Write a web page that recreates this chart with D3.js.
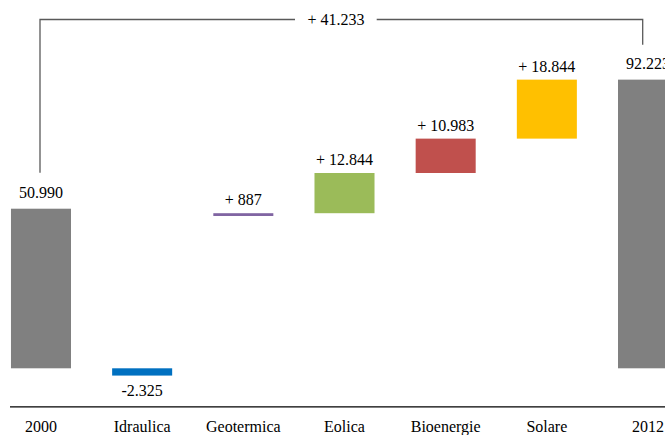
<!DOCTYPE html>
<html>
<head>
<meta charset="utf-8">
<script src="https://cdn.jsdelivr.net/npm/d3@7"></script>
<style>
  html, body { margin: 0; padding: 0; background: #fff; }
  svg { display: block; }
</style>
</head>
<body>
<svg id="chart" width="665" height="435"></svg>
<script>
// Capacity change 2000 → 2012 by source (MW)
const categories = ["2000", "Idraulica", "Geotermica", "Eolica", "Bioenergie", "Solare", "2012"];
const values     = [50990, -2325, 887, 12844, 10983, 18844, 92223];
const kinds      = ["total", "delta", "delta", "delta", "delta", "delta", "total"];
const colors     = ["#808080", "#0070C0", "#8064A2", "#9BBB59", "#C0504D", "#FFC000", "#808080"];
const totalChange = values[6] - values[0];

const FONT = "'Liberation Serif', 'DejaVu Serif', serif";

const it = d3.formatLocale({ decimal: ",", thousands: ".", grouping: [3], currency: ["", " €"] });
const fmt = it.format(",d");

const svg = d3.select("#chart");

const x = d3.scaleBand()
  .domain(categories)
  .range([-9.6, 698.6])
  .paddingInner(0.4067)
  .paddingOuter(0.2033);

const y = d3.scaleLinear()
  .domain([-12300, 100000])
  .range([406.8, 55.3]);

// Running totals; negative steps hang below the zero line
let running = 0;
const bars = categories.map((c, i) => {
  const v = values[i];
  let lo, hi;
  if (kinds[i] === "total") {
    lo = 0; hi = v; running = v;
  } else if (v < 0) {
    lo = v; hi = 0; running += v;
  } else {
    lo = running; hi = running + v; running += v;
  }
  return { cat: c, value: v, kind: kinds[i], color: colors[i], lo, hi };
});

svg.append("g")
  .selectAll("rect")
  .data(bars)
  .join("rect")
  .attr("x", d => x(d.cat))
  .attr("width", x.bandwidth())
  .attr("y", d => y(d.hi))
  .attr("height", d => y(d.lo) - y(d.hi))
  .attr("fill", d => d.color);

// Value labels
svg.append("g")
  .selectAll("text")
  .data(bars)
  .join("text")
  .attr("x", d => x(d.cat) + x.bandwidth() / 2)
  .attr("y", d => d.value < 0 ? y(d.lo) + 20 : y(d.hi) - (d.kind === "total" ? 11 : 8))
  .attr("text-anchor", "middle")
  .attr("font-family", FONT)
  .attr("font-size", 16)
  .attr("fill", "#000")
  .text(d => d.kind === "total" ? fmt(d.value) : (d.value < 0 ? "-" + fmt(-d.value) : "+ " + fmt(d.value)));

// Category axis
const axis = svg.append("g")
  .attr("transform", `translate(0,${y(-12300)})`)
  .call(d3.axisBottom(x).tickSize(0).tickPadding(14));
axis.attr("font-family", FONT).attr("font-size", 16);
axis.select(".domain").remove();
axis.selectAll("text").attr("fill", "#000");

svg.append("line")
  .attr("x1", 10).attr("x2", 665)
  .attr("y1", y(-12300)).attr("y2", y(-12300))
  .attr("stroke", "#000")
  .attr("stroke-width", 1.3);

// Bracket showing the overall change between the two totals
const bx0 = 40, bx1 = 642.7, by = 19.5;
const leftEnd = y(values[0]) - 36;
const rightEnd = y(values[6]) - 35;
const bracket = svg.append("g")
  .attr("fill", "none")
  .attr("stroke", "#595959")
  .attr("stroke-width", 1.3);
bracket.append("path").attr("d", `M${bx0},${leftEnd} V${by} H295`);
bracket.append("path").attr("d", `M376.7,${by} H${bx1} V${rightEnd}`);

svg.append("text")
  .attr("x", 336)
  .attr("y", by + 5.5)
  .attr("text-anchor", "middle")
  .attr("font-family", FONT)
  .attr("font-size", 16)
  .attr("fill", "#000")
  .text("+ " + fmt(totalChange));
</script>
</body>
</html>
